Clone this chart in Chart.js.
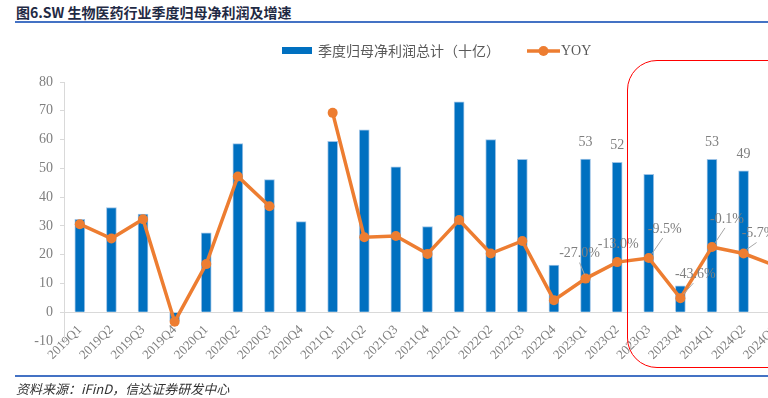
<!DOCTYPE html>
<html lang="zh">
<head>
    <meta charset="utf-8" />
    <title>SW 生物医药行业季度归母净利润及增速</title>
    <script src="https://cdn.jsdelivr.net/npm/chart.js"></script>
    <style>
        body { margin: 0; width: 768px; height: 398px; overflow: hidden; position: relative; background: #fff; }
        #titulo { position: absolute; left: 16px; top: 2px; font: bold 14px "Noto Sans CJK SC", sans-serif; color: #1f2a44; white-space: nowrap; }
        #lineaTitulo { position: absolute; left: 15px; top: 21px; width: 760px; height: 2px; background: #4472C4; }
        #lineaPie { position: absolute; left: 15px; top: 375px; width: 760px; height: 2px; background: #4472C4; }
        #fuente { position: absolute; left: 16px; top: 379px; font: italic 13px "Noto Sans CJK SC", sans-serif; color: #333; white-space: nowrap; }
        #marco { position: absolute; left: 627px; top: 60px; width: 200px; height: 306px; border: 1.5px solid #ff0000; border-radius: 30px; pointer-events: none; }
        #grafico { position: absolute; left: 0; top: 0; }
    </style>
</head>
<body>
    <div id="titulo">图6.SW 生物医药行业季度归母净利润及增速</div>
    <div id="lineaTitulo"></div>
    <div style="position:absolute;left:0;top:0;width:874px;height:398px;">
        <canvas id="grafico" width="874" height="398"></canvas>
    </div>
    <div id="marco"></div>
    <div id="lineaPie"></div>
    <div id="fuente">资料来源：iFinD，信达证券研发中心</div>

    <script>
        // datos
        const trimestres = ['2019Q1', '2019Q2', '2019Q3', '2019Q4', '2020Q1', '2020Q2', '2020Q3', '2020Q4',
            '2021Q1', '2021Q2', '2021Q3', '2021Q4', '2022Q1', '2022Q2', '2022Q3', '2022Q4',
            '2023Q1', '2023Q2', '2023Q3', '2023Q4', '2024Q1', '2024Q2', '2024Q3'];

        // 季度归母净利润总计（十亿）
        const beneficio = [32.3, 36.4, 34.1, -3.0, 27.6, 58.6, 46.1, 31.5,
            59.4, 63.4, 50.5, 29.8, 73.1, 60.0, 53.1, 16.4,
            53.2, 52.1, 47.9, 9.2, 53.1, 49.1, 45.0];

        // YOY (%), 2020Q4 sin dato
        const yoy = [19.2, 7.0, 23.4, -63.6, -14.7, 59.8, 34.4, null,
            113.8, 8.1, 9.2, -6.0, 22.8, -5.7, 5.0, -45.3,
            -27.0, -13.0, -9.5, -43.6, -0.1, -5.7, -16.0];

        const ejeY = { min: -10, max: 80, paso: 10 };
        const ejeYoy = { min: -80, max: 140 };

        // que puntos llevan etiqueta
        const barrasConEtiqueta = ['2023Q1', '2023Q2', '2024Q1', '2024Q2'];
        const yoyConEtiqueta = ['2023Q1', '2023Q2', '2023Q3', '2023Q4', '2024Q1', '2024Q2', '2024Q3'];

        const azul = '#0070C0';
        const naranja = '#ED7D31';
        const gris = '#7f7f7f';
        const serif = '"Liberation Serif", "Times New Roman", serif';

        // desplazamiento de las etiquetas del YOY respecto al punto [dx, dy, guia]
        const posEtiquetas = {
            '2023Q1': [-6, -25, true],
            '2023Q2': [1, -18, false],
            '2023Q3': [16, -29, true],
            '2023Q4': [15, -24, true],
            '2024Q1': [15, -28, true],
            '2024Q2': [15, -20, true],
            '2024Q3': [15, -20, true]
        };

        const etiquetas = {
            id: 'etiquetas',
            afterDatasetsDraw(chart) {
                const ctx = chart.ctx;
                ctx.save();
                ctx.font = '14px ' + serif;
                ctx.fillStyle = gris;
                ctx.textAlign = 'center';
                ctx.textBaseline = 'middle';

                const barras = chart.getDatasetMeta(0).data;
                barrasConEtiqueta.forEach(t => {
                    const i = trimestres.indexOf(t);
                    const b = barras[i];
                    ctx.fillText(Math.round(beneficio[i]).toString(), b.x, b.y - 17);
                });

                const puntos = chart.getDatasetMeta(1).data;
                yoyConEtiqueta.forEach(t => {
                    const i = trimestres.indexOf(t);
                    const p = puntos[i];
                    const [dx, dy, guia] = posEtiquetas[t];
                    const lx = p.x + dx, ly = p.y + dy;
                    if (guia) {
                        ctx.strokeStyle = '#a6a6a6';
                        ctx.lineWidth = 1;
                        ctx.beginPath();
                        ctx.moveTo(p.x + (dx > 0 ? 3 : -1), p.y - 4);
                        ctx.lineTo(lx - (dx > 0 ? 2 : 0), ly + 9);
                        ctx.stroke();
                    }
                    ctx.fillText(yoy[i].toFixed(1) + '%', lx, ly);
                });
                ctx.restore();
            }
        };

        const leyenda = {
            id: 'leyenda',
            afterDraw(chart) {
                const ctx = chart.ctx;
                ctx.save();
                ctx.fillStyle = azul;
                ctx.fillRect(282, 47, 30, 7);
                ctx.fillStyle = '#595959';
                ctx.textBaseline = 'middle';
                ctx.textAlign = 'left';
                ctx.font = '14px "Noto Sans CJK SC", sans-serif';
                ctx.fillText(chart.data.datasets[0].label, 318, 51);

                ctx.strokeStyle = naranja;
                ctx.lineWidth = 3.5;
                ctx.beginPath();
                ctx.moveTo(527, 51);
                ctx.lineTo(560, 51);
                ctx.stroke();
                ctx.fillStyle = naranja;
                ctx.beginPath();
                ctx.arc(543.5, 51, 5, 0, Math.PI * 2);
                ctx.fill();
                ctx.fillStyle = '#595959';
                ctx.font = '14px ' + serif;
                ctx.fillText(chart.data.datasets[1].label, 561, 51);
                ctx.restore();
            }
        };

        new Chart(document.getElementById('grafico'), {
            type: 'bar',
            data: {
                labels: trimestres,
                datasets: [
                    {
                        label: '季度归母净利润总计（十亿）',
                        data: beneficio,
                        backgroundColor: azul,
                        borderColor: '#9dc3e6',
                        borderWidth: 1,
                        barThickness: 10,
                        yAxisID: 'y',
                        order: 2
                    },
                    {
                        type: 'line',
                        label: 'YOY',
                        data: yoy,
                        borderColor: naranja,
                        backgroundColor: naranja,
                        borderWidth: 3.5,
                        pointRadius: 5,
                        pointBackgroundColor: naranja,
                        pointBorderWidth: 0,
                        spanGaps: false,
                        tension: 0,
                        yAxisID: 'y1',
                        order: 1
                    }
                ]
            },
            options: {
                responsive: false,
                animation: false,
                layout: { padding: { top: 82, left: 0, right: 83, bottom: 57 } },
                plugins: {
                    legend: { display: false },
                    tooltip: { enabled: false }
                },
                scales: {
                    x: {
                        position: { y: 0 },
                        grid: { display: false },
                        border: { display: false },
                        ticks: {
                            maxRotation: 45,
                            minRotation: 45,
                            padding: 2,
                            color: gris,
                            font: { family: serif, size: 13 }
                        }
                    },
                    y: {
                        min: ejeY.min,
                        max: ejeY.max,
                        afterFit(s) { s.width = 64; },
                        border: { display: true, color: '#d9d9d9' },
                        grid: {
                            color: c => c.tick && c.tick.value === 0 ? '#d9d9d9' : 'rgba(0,0,0,0)',
                            tickColor: '#d9d9d9',
                            tickLength: 4
                        },
                        ticks: {
                            stepSize: ejeY.paso,
                            padding: 7,
                            color: gris,
                            font: { family: serif, size: 14 }
                        }
                    },
                    y1: {
                        display: false,
                        min: ejeYoy.min,
                        max: ejeYoy.max
                    }
                }
            },
            plugins: [etiquetas, leyenda]
        });
    </script>
</body>
</html>
